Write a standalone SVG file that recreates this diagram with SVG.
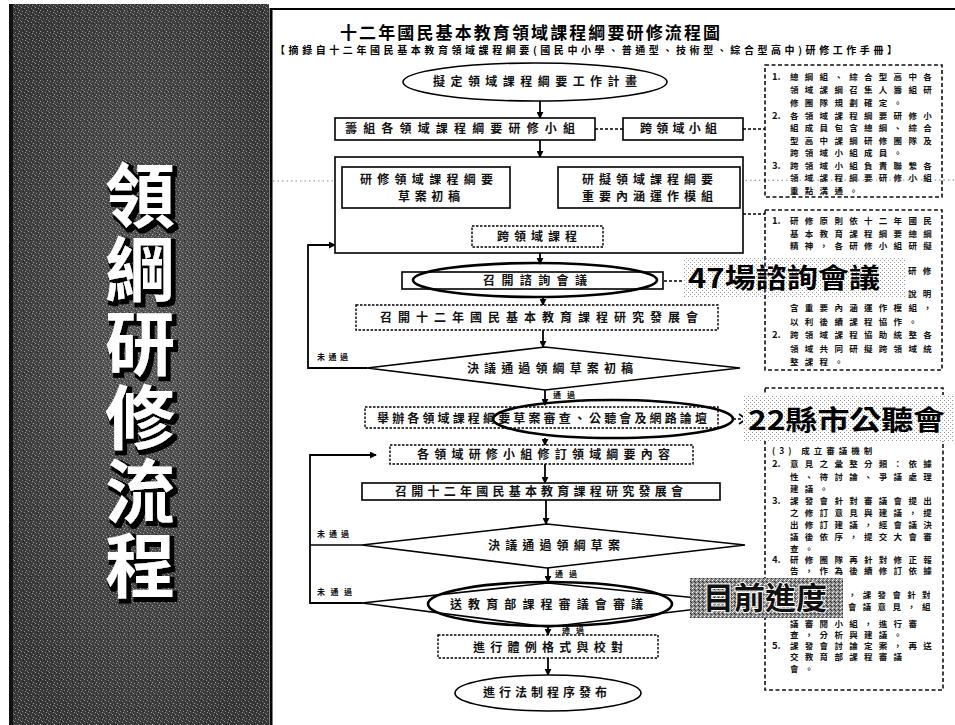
<svg xmlns="http://www.w3.org/2000/svg" width="955" height="725" viewBox="0 0 955 725">
<defs>
<style>
.f{font-family:"Noto Sans CJK TC","Noto Sans CJK SC",sans-serif;font-weight:700}
.t{font-size:12px;fill:#111}
.b{fill:#fff;stroke:#000;stroke-width:1.6}
.db{fill:#fff;stroke:#000;stroke-width:1.4;stroke-dasharray:2.5 1.5}
.nb{fill:none;stroke:#111;stroke-width:1.6;stroke-dasharray:4 2.5}
.ln{fill:none;stroke:#000;stroke-width:1.6}
.ar{fill:none;stroke:#000;stroke-width:1.8;marker-end:url(#ah)}
.ar2{fill:none;stroke:#000;stroke-width:1.8;marker-end:url(#ah);marker-start:url(#ahs)}
.dl{fill:none;stroke:#000;stroke-width:1.4;stroke-dasharray:3 2}
.nt{font-size:8.5px;fill:#111}
.n{letter-spacing:6.3px}
.k{letter-spacing:0;font-size:9.5px}
.k3{letter-spacing:4px}
.s{font-size:8px;fill:#111}
.hl{fill:none;stroke:#000;stroke-width:2.6}
.big{font-size:27px;fill:#000}
</style>
<marker id="ah" viewBox="0 0 8 8" refX="7" refY="4" markerWidth="7" markerHeight="7" markerUnits="userSpaceOnUse" orient="auto"><path d="M0,0 L8,4 L0,8 z" fill="#000"/></marker>
<marker id="ahs" viewBox="0 0 8 8" refX="1" refY="4" markerWidth="7" markerHeight="7" markerUnits="userSpaceOnUse" orient="auto"><path d="M8,0 L0,4 L8,8 z" fill="#000"/></marker>
<filter id="sh" x="-30%" y="-10%" width="160%" height="120%">
<feMorphology in="SourceAlpha" operator="dilate" radius="2" result="d"/>
<feOffset in="d" dx="3" dy="3" result="o"/>
<feFlood flood-color="#000"/>
<feComposite in2="o" operator="in" result="s"/>
<feMerge><feMergeNode in="s"/><feMergeNode in="SourceGraphic"/></feMerge>
</filter>
<pattern id="noise" width="7" height="7" patternUnits="userSpaceOnUse">
<rect x="0" y="0" width="1" height="1" fill="#d8d8d8"/>
<rect x="3" y="1" width="1" height="1" fill="#c0c0c0"/>
<rect x="5" y="3" width="1" height="1" fill="#e0e0e0"/>
<rect x="1" y="4" width="1" height="1" fill="#b8b8b8"/>
<rect x="4" y="5" width="1" height="1" fill="#d0d0d0"/>
<rect x="6" y="6" width="1" height="1" fill="#a8a8a8"/>
<rect x="2" y="2" width="1" height="1" fill="#111"/>
<rect x="5" y="0" width="1" height="1" fill="#111"/>
<rect x="0" y="6" width="1" height="1" fill="#1a1a1a"/>
<rect x="3" y="4" width="1" height="1" fill="#151515"/>
</pattern>
<radialGradient id="pg" cx="0.5" cy="0.48" r="0.6">
<stop offset="0" stop-color="#5c5c5c"/>
<stop offset="1" stop-color="#383838"/>
</radialGradient>
<pattern id="stip" width="4" height="4" patternUnits="userSpaceOnUse">
<rect width="4" height="4" fill="#fff"/>
<rect x="0" y="0" width="1" height="1" fill="#999"/>
<rect x="2" y="2" width="1" height="1" fill="#aaa"/>
</pattern>
<pattern id="dstip" width="4" height="4" patternUnits="userSpaceOnUse">
<rect width="4" height="4" fill="#8a8a8a"/>
<rect x="0" y="0" width="1" height="1" fill="#fff"/>
<rect x="2" y="1" width="1" height="1" fill="#222"/>
<rect x="1" y="3" width="1" height="1" fill="#ddd"/>
<rect x="3" y="2" width="1" height="1" fill="#333"/>
</pattern>
</defs>

<rect width="955" height="725" fill="#fff"/>

<g id="side">
<rect x="9" y="4" width="4" height="721" fill="#111"/>
<rect x="13" y="4" width="256" height="721" fill="url(#pg)"/>
<rect x="13" y="4" width="256" height="721" fill="url(#noise)" opacity="0.6"/>
<text class="f" x="140" y="160" font-size="70" writing-mode="vertical-rl" text-orientation="upright" letter-spacing="4" fill="#fff" filter="url(#sh)">領綱研修流程</text>
</g>

<g id="frame">
<line x1="271" y1="9" x2="955" y2="9" stroke="#000" stroke-width="2"/>
<line x1="271" y1="8" x2="271" y2="725" stroke="#000" stroke-width="3"/>
<line x1="273" y1="181" x2="955" y2="180" stroke="#888" stroke-width="1" stroke-dasharray="1.5 3"/>
</g>

<g id="title" class="f">
<text x="340" y="39" font-size="17" textLength="380" lengthAdjust="spacing" fill="#000">十二年國民基本教育領域課程綱要研修流程圖</text>
<text x="275" y="54" font-size="10" textLength="622" lengthAdjust="spacing" fill="#000">【摘錄自十二年國民基本教育領域課程綱要(國民中小學、普通型、技術型、綜合型高中)研修工作手冊】</text>
</g>

<g id="connectors">
<line class="ar" x1="540" y1="100" x2="540" y2="118"/>
<line class="ar" x1="540" y1="140" x2="540" y2="157"/>
<line class="dl" x1="595" y1="129" x2="623" y2="129"/>
<line class="dl" x1="743" y1="129" x2="765" y2="129"/>
<line class="dl" x1="743" y1="214" x2="765" y2="214"/>
<line class="ar2" x1="512" y1="187" x2="556" y2="187" stroke-dasharray="2 1.5"/>
<line class="ar2" x1="499" y1="210" x2="518" y2="225"/>
<line class="ar2" x1="582" y1="210" x2="563" y2="225"/>
<line class="ar" x1="540" y1="253" x2="540" y2="264"/>
<line class="ar" x1="543" y1="297" x2="543" y2="305"/>
<line class="ar" x1="543" y1="330" x2="543" y2="347"/>
<line class="ar" x1="545" y1="390" x2="545" y2="405"/>
<line class="ar" x1="545" y1="438" x2="545" y2="445"/>
<line class="ar" x1="545" y1="464" x2="545" y2="483"/>
<line class="ar" x1="546" y1="500" x2="546" y2="524"/>
<line class="ar" x1="548" y1="568" x2="548" y2="582"/>
<line class="ar" x1="548" y1="627" x2="548" y2="635"/>
<line class="ar" x1="548" y1="658" x2="548" y2="675"/>
<polyline class="ar" points="367,368 308,368 308,245 335,245"/>
<polyline class="ln" points="362,545 310,545"/>
<polyline class="ar" points="362,603 310,603 310,455 376,455"/>
<line class="dl" x1="664" y1="281" x2="686" y2="281"/>
<polyline class="dl" points="733,419 747,419"/>
<polyline class="ln" points="739,414 746,419 739,424" stroke-width="1.2"/>
</g>

<g id="n1"><ellipse class="b" cx="535" cy="82" rx="132" ry="19"/><text class="f t" x="433" y="86" textLength="204" lengthAdjust="spacing">擬定領域課程綱要工作計畫</text></g>
<g id="n2"><rect class="b" x="335" y="118" width="260" height="22"/><text class="f t" x="345" y="133" textLength="230" lengthAdjust="spacing">籌組各領域課程綱要研修小組</text></g>
<g id="n2b"><rect class="b" x="623" y="118" width="120" height="22"/><text class="f t" x="640" y="133" textLength="77" lengthAdjust="spacing">跨領域小組</text></g>

<g id="n3">
<rect class="b" x="335" y="157" width="408" height="96" fill="none"/>
<rect class="b" x="342" y="167" width="168" height="41"/>
<text class="f t"><tspan x="360" y="184" textLength="133" lengthAdjust="spacing">研修領域課程綱要</tspan><tspan x="398" y="201" textLength="62" lengthAdjust="spacing">草案初稿</tspan></text>
<rect class="b" x="558" y="167" width="182" height="41"/>
<text class="f t"><tspan x="582" y="184" textLength="131" lengthAdjust="spacing">研擬領域課程綱要</tspan><tspan x="582" y="201" textLength="131" lengthAdjust="spacing">重要內涵運作模組</tspan></text>
<rect class="db" x="472" y="226" width="131" height="21"/>
<text class="f t" x="497" y="241" textLength="80" lengthAdjust="spacing">跨領域課程</text>
</g>

<g id="n4"><rect class="b" x="402" y="272" width="261" height="17"/><ellipse class="hl" cx="535" cy="280" rx="122" ry="17" fill="#fff"/><text class="f t" x="483" y="285" textLength="104" lengthAdjust="spacing">召開諮詢會議</text></g>
<g id="c47"><rect x="683" y="257" width="222" height="40" fill="url(#stip)"/><text class="f big" x="688" y="288" textLength="192" lengthAdjust="spacingAndGlyphs">47場諮詢會議</text></g>

<g id="n5"><rect class="db" x="356" y="305" width="362" height="25"/><text class="f t" x="380" y="322" textLength="318" lengthAdjust="spacing">召開十二年國民基本教育課程研究發展會</text></g>

<g id="d1"><polygon class="b" points="367,368 545,347 740,368 545,390" stroke-width="1.3"/><text class="f t" x="467" y="373" textLength="166" lengthAdjust="spacing">決議通過領綱草案初稿</text></g>
<text class="f s" x="317" y="360" textLength="31" lengthAdjust="spacing">未通過</text>
<text class="f s" x="553" y="398" textLength="22" lengthAdjust="spacing">通過</text>

<g id="n6"><rect class="db" x="365" y="407" width="353" height="21"/><ellipse class="hl" cx="613" cy="419" rx="120" ry="19"/><text class="f t" x="377" y="423" textLength="330" lengthAdjust="spacing">舉辦各領域課程綱要草案審查、公聽會及網路論壇</text></g>

<g id="n7"><rect class="db" x="390" y="445" width="303" height="19"/><text class="f t" x="417" y="459" textLength="253" lengthAdjust="spacing">各領域研修小組修訂領域綱要內容</text></g>
<g id="n8"><rect class="b" x="362" y="483" width="358" height="17"/><text class="f t" x="395" y="496" textLength="288" lengthAdjust="spacing">召開十二年國民基本教育課程研究發展會</text></g>

<g id="d2"><polygon class="b" points="362,545 547,524 745,545 547,568" stroke-width="1.3"/><text class="f t" x="488" y="550" textLength="132" lengthAdjust="spacing">決議通過領綱草案</text></g>
<text class="f s" x="317" y="537" textLength="32" lengthAdjust="spacing">未通過</text>
<text class="f s" x="555" y="577" textLength="22" lengthAdjust="spacing">通過</text>

<g id="d3"><polygon class="b" points="362,603 548,583 747,603 548,627" stroke-width="1.3"/><ellipse class="hl" cx="550" cy="604" rx="122" ry="22" fill="#fff"/><text class="f t" x="450" y="609" textLength="193" lengthAdjust="spacing">送教育部課程審議會審議</text></g>
<text class="f s" x="317" y="595" textLength="35" lengthAdjust="spacing">未通過</text>
<text class="f s" x="562" y="633" textLength="22" lengthAdjust="spacing">通過</text>

<g id="n9"><rect class="db" x="438" y="635" width="220" height="23"/><text class="f t" x="473" y="652" textLength="150" lengthAdjust="spacing">進行體例格式與校對</text></g>
<g id="n10"><ellipse class="b" cx="548" cy="693" rx="93" ry="18"/><text class="f t" x="483" y="697" textLength="124" lengthAdjust="spacing">進行法制程序發布</text></g>

<g id="note1">
<rect class="nb" x="765" y="65" width="177" height="132"/>
<text class="f nt"><tspan class="k" x="772" y="80">1.</tspan><tspan class="n" x="790" y="80">總綱組、綜合型高中各</tspan><tspan class="n" x="790" y="93">領域課綱召集人籌組研</tspan><tspan class="n" x="790" y="106">修團隊規劃確定。</tspan><tspan class="k" x="772" y="119">2.</tspan><tspan class="n" x="790" y="119">各領域課程綱要研修小</tspan><tspan class="n" x="790" y="131">組成員包含總綱、綜合</tspan><tspan class="n" x="790" y="144">型高中課綱研修團隊及</tspan><tspan class="n" x="790" y="156">跨領域小組成員。</tspan><tspan class="k" x="772" y="169">3.</tspan><tspan class="n" x="790" y="169">跨領域小組負責聯繫各</tspan><tspan class="n" x="790" y="181">領域課程綱要研修小組</tspan><tspan class="n" x="790" y="194">重點溝通。</tspan></text>
</g>

<g id="note2">
<rect class="nb" x="765" y="210" width="177" height="160"/>
<text class="f nt"><tspan class="k" x="772" y="224">1.</tspan><tspan class="n" x="790" y="224">研修原則依十二年國民</tspan><tspan class="n" x="790" y="237">基本教育課程綱要總綱</tspan><tspan class="n" x="790" y="249">精神，各研修小組研擬</tspan><tspan class="n" x="908" y="274">研修</tspan><tspan class="n" x="908" y="297">說明</tspan><tspan class="n" x="790" y="311">含重要內涵運作模組，</tspan><tspan class="n" x="790" y="325">以利後續課程協作。</tspan><tspan class="k" x="772" y="338">2.</tspan><tspan class="n" x="790" y="338">跨領域課程協助統整各</tspan><tspan class="n" x="790" y="352">領域共同研擬跨領域統</tspan><tspan class="n" x="790" y="365">整課程。</tspan></text>
</g>

<g id="note3">
<rect class="nb" x="765" y="388" width="178" height="302"/>
<text class="f nt"><tspan class="k3" x="772" y="454">(3) 成立審議機制</tspan><tspan class="k" x="772" y="467">2.</tspan><tspan class="n" x="790" y="467">意見之彙整分類：依據</tspan><tspan class="n" x="790" y="480">性、待討論、爭議處理</tspan><tspan class="n" x="790" y="492">建議。</tspan><tspan class="k" x="772" y="504">3.</tspan><tspan class="n" x="790" y="504">課發會針對審議會提出</tspan><tspan class="n" x="790" y="516">之修訂意見與建議，提</tspan><tspan class="n" x="790" y="528">出修訂建議，經會議決</tspan><tspan class="n" x="790" y="540">議後依序，提交大會審</tspan><tspan class="n" x="790" y="552">查。</tspan><tspan class="k" x="772" y="563">4.</tspan><tspan class="n" x="790" y="563">研修團隊再針對修正報</tspan><tspan class="n" x="790" y="574">告，作為後續修訂依據</tspan><tspan class="n" x="848" y="598">，課發會針對</tspan><tspan class="n" x="848" y="610">會議意見，組</tspan><tspan class="n" x="790" y="627">議審閱小組，進行審</tspan><tspan class="n" x="790" y="638">查，分析與建議。</tspan><tspan class="k" x="772" y="649">5.</tspan><tspan class="n" x="790" y="649">課發會討論定案，再送</tspan><tspan class="n" x="790" y="660">交教育部課程審議</tspan><tspan class="n" x="790" y="672">會。</tspan></text>
</g>

<g id="c22"><rect x="743" y="395" width="210" height="46" fill="url(#stip)"/><text class="f big" x="748" y="430" font-size="29" textLength="197" lengthAdjust="spacingAndGlyphs">22縣市公聽會</text></g>

<g id="cnow"><rect x="690" y="578" width="153" height="40" fill="url(#dstip)"/><text class="f" x="703" y="609" font-size="31" textLength="124" lengthAdjust="spacingAndGlyphs" fill="#111" stroke="#fff" stroke-width="2" paint-order="stroke">目前進度</text></g>
</svg>
